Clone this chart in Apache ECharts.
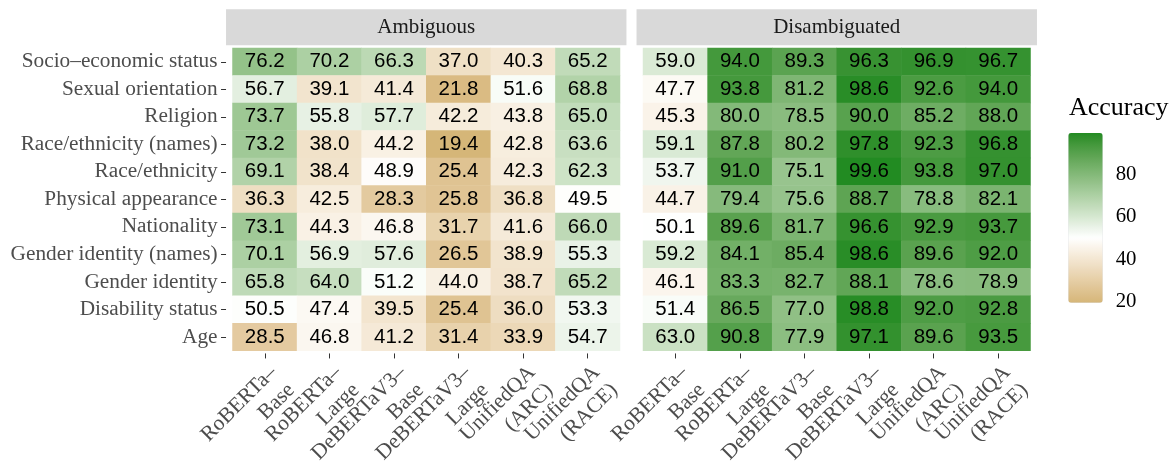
<!DOCTYPE html>
<html>
<head>
<meta charset="utf-8">
<script src="https://cdn.jsdelivr.net/npm/echarts@6/dist/echarts.min.js"></script>
<style>
html,body{margin:0;padding:0;background:#fff;}
#chart{width:1173px;height:461px;}
</style>
</head>
<body>
<div id="chart"></div>
<script>
// ---------- data ----------
const models = ['RoBERTa–\nBase', 'RoBERTa–\nLarge', 'DeBERTaV3–\nBase', 'DeBERTaV3–\nLarge', 'UnifiedQA\n(ARC)', 'UnifiedQA\n(RACE)'];
const categories = ['Socio–economic status', 'Sexual orientation', 'Religion', 'Race/ethnicity (names)', 'Race/ethnicity',
  'Physical appearance', 'Nationality', 'Gender identity (names)', 'Gender identity', 'Disability status', 'Age'];
const panels = ['Ambiguous', 'Disambiguated'];
// rows follow `categories`, columns follow `models`
const ambiguous = [
  [76.2, 70.2, 66.3, 37.0, 40.3, 65.2],
  [56.7, 39.1, 41.4, 21.8, 51.6, 68.8],
  [73.7, 55.8, 57.7, 42.2, 43.8, 65.0],
  [73.2, 38.0, 44.2, 19.4, 42.8, 63.6],
  [69.1, 38.4, 48.9, 25.4, 42.3, 62.3],
  [36.3, 42.5, 28.3, 25.8, 36.8, 49.5],
  [73.1, 44.3, 46.8, 31.7, 41.6, 66.0],
  [70.1, 56.9, 57.6, 26.5, 38.9, 55.3],
  [65.8, 64.0, 51.2, 44.0, 38.7, 65.2],
  [50.5, 47.4, 39.5, 25.4, 36.0, 53.3],
  [28.5, 46.8, 41.2, 31.4, 33.9, 54.7]
];
const disambiguated = [
  [59.0, 94.0, 89.3, 96.3, 96.9, 96.7],
  [47.7, 93.8, 81.2, 98.6, 92.6, 94.0],
  [45.3, 80.0, 78.5, 90.0, 85.2, 88.0],
  [59.1, 87.8, 80.2, 97.8, 92.3, 96.8],
  [53.7, 91.0, 75.1, 99.6, 93.8, 97.0],
  [44.7, 79.4, 75.6, 88.7, 78.8, 82.1],
  [50.1, 89.6, 81.7, 96.6, 92.9, 93.7],
  [59.2, 84.1, 85.4, 98.6, 89.6, 92.0],
  [46.1, 83.3, 82.7, 88.1, 78.6, 78.9],
  [51.4, 86.5, 77.0, 98.8, 92.0, 92.8],
  [63.0, 90.8, 77.9, 97.1, 89.6, 93.5]
];
const legendTicks = [20, 40, 60, 80];
const colorMid = 50;
const colorLow = '#B38B22', colorMidC = '#FFFFFF', colorHigh = '#228B22';

// ---------- colour scale (Lab interpolation, like scale_fill_gradient2) ----------
function hex2rgb(h){return [parseInt(h.slice(1,3),16),parseInt(h.slice(3,5),16),parseInt(h.slice(5,7),16)];}
function toLin(c){c/=255;return c<=0.04045?c/12.92:Math.pow((c+0.055)/1.055,2.4);}
function fromLin(c){c=c<=0.0031308?12.92*c:1.055*Math.pow(c,1/2.4)-0.055;return Math.max(0,Math.min(255,Math.round(c*255)));}
const Xn=0.95047,Yn=1,Zn=1.08883;
function f(t){return t>0.008856?Math.cbrt(t):7.787*t+16/116;}
function finv(t){return t>0.206893?t*t*t:(t-16/116)/7.787;}
function rgb2lab(rgb){
  const r=toLin(rgb[0]),g=toLin(rgb[1]),b=toLin(rgb[2]);
  const X=0.4124564*r+0.3575761*g+0.1804375*b, Y=0.2126729*r+0.7151522*g+0.0721750*b, Z=0.0193339*r+0.1191920*g+0.9503041*b;
  const fx=f(X/Xn),fy=f(Y/Yn),fz=f(Z/Zn);
  return [116*fy-16,500*(fx-fy),200*(fy-fz)];
}
function lab2hex(lab){
  const fy=(lab[0]+16)/116,fx=fy+lab[1]/500,fz=fy-lab[2]/200;
  const X=finv(fx)*Xn,Y=finv(fy)*Yn,Z=finv(fz)*Zn;
  const r=3.2404542*X-1.5371385*Y-0.4985314*Z, g=-0.9692660*X+1.8760108*Y+0.0415560*Z, b=0.0556434*X-0.2040259*Y+1.0572252*Z;
  return '#'+[fromLin(r),fromLin(g),fromLin(b)].map(v=>v.toString(16).padStart(2,'0')).join('');
}
function lerpLab(a,b,t){return [a[0]+(b[0]-a[0])*t,a[1]+(b[1]-a[1])*t,a[2]+(b[2]-a[2])*t];}
const allVals = ambiguous.flat().concat(disambiguated.flat());
const vMin = Math.min(...allVals), vMax = Math.max(...allVals);
const labLow=rgb2lab(hex2rgb(colorLow)), labMid=rgb2lab(hex2rgb(colorMidC)), labHigh=rgb2lab(hex2rgb(colorHigh));
const halfSpan = Math.max(vMax-colorMid, colorMid-vMin);
function colorAt(v){
  const t=(v-colorMid)/(2*halfSpan)+0.5;
  return t<0.5 ? lab2hex(lerpLab(labLow,labMid,t/0.5)) : lab2hex(lerpLab(labMid,labHigh,(t-0.5)/0.5));
}
const stops=[];
const NS=60;
for(let i=0;i<=NS;i++){stops.push(colorAt(vMin+(vMax-vMin)*i/NS));}

// ---------- layout ----------
const tileW = 387.5, tileH = 302.7, tileTop = 48;
const panelLeft = [232.5, 643];
const expX = tileW/6*0.1, expY = tileH/11*0.1;
const serif = 'Liberation Serif';
const sans = 'Liberation Sans';

function toData(mat){
  const out=[];
  mat.forEach((row,r)=>row.forEach((v,c)=>out.push([c,r,v])));
  return out;
}

const grids=[], xAxes=[], yAxes=[], series=[], graphics=[];
panels.forEach((p,i)=>{
  grids.push({left:panelLeft[i], top:tileTop, width:tileW, height:tileH, containLabel:false, outerBoundsMode:'none'});
  xAxes.push({type:'category', gridIndex:i, data:models, position:'bottom', offset:expY,
    axisLine:{show:false}, splitLine:{show:false},
    axisTick:{show:true, alignWithLabel:true, length:5, lineStyle:{color:'#333333', width:1}},
    axisLabel:{interval:0, rotate:45, margin:7, fontFamily:serif, fontSize:21.5, color:'#4D4D4D', lineHeight:25,
      align:'right', verticalAlign:'top', hideOverlap:false}});
  yAxes.push({type:'category', gridIndex:i, data:categories, inverse:true, offset:expX, show: i===0,
    axisLine:{show:false}, splitLine:{show:false},
    axisTick:{show:true, alignWithLabel:true, length:5, lineStyle:{color:'#333333', width:1}},
    axisLabel:{interval:0, margin:8.5, fontFamily:serif, fontSize:21.3, color:'#4D4D4D'}});
  series.push({type:'heatmap', name:p, xAxisIndex:i, yAxisIndex:i, data:toData(i===0?ambiguous:disambiguated),
    label:{show:true, formatter:(d)=>d.value[2].toFixed(1), fontFamily:sans, fontSize:20.5, color:'#000000'},
    itemStyle:{borderWidth:0}, emphasis:{disabled:true}, progressive:0});
  // facet strip
  graphics.push({type:'rect', shape:{x:panelLeft[i]-expX, y:9.3, width:tileW+2*expX, height:36}, style:{fill:'#D9D9D9'}, silent:true});
  graphics.push({type:'text', x:panelLeft[i]+tileW/2, y:27.3, style:{text:p, fontFamily:serif, fontSize:21, fill:'#1A1A1A', align:'center', verticalAlign:'middle'}, silent:true});
});

// legend colourbar axes (ticks/labels)
const barLeft=1068.3, barTop=133, barW=34.4, barH=169.7;
grids.push({left:barLeft, top:barTop, width:barW, height:barH, containLabel:false, outerBoundsMode:'none'});
xAxes.push({type:'value', gridIndex:2, show:false, min:0, max:1});
yAxes.push({type:'value', gridIndex:2, position:'right', min:vMin, max:vMax,
  axisLine:{show:false}, splitLine:{show:false},
  axisTick:{show:true, inside:true, length:6, customValues:legendTicks, lineStyle:{color:'#FFFFFF', width:1}},
  axisLabel:{customValues:legendTicks, margin:13, fontFamily:serif, fontSize:20.8, color:'#000000'}});
yAxes.push({type:'value', gridIndex:2, position:'left', min:vMin, max:vMax,
  axisLine:{show:false}, splitLine:{show:false},
  axisTick:{show:true, inside:true, length:6, customValues:legendTicks, lineStyle:{color:'#FFFFFF', width:1}},
  axisLabel:{show:false}});
graphics.push({type:'text', x:1069, y:108.5, style:{text:'Accuracy', fontFamily:serif, fontSize:26, fill:'#000000', align:'left', verticalAlign:'middle'}, silent:true});

const chart = echarts.init(document.getElementById('chart'), null, {renderer:'canvas'});
chart.setOption({
  animation:false,
  backgroundColor:'#FFFFFF',
  grid:grids, xAxis:xAxes, yAxis:yAxes, series:series,
  visualMap:{type:'continuous', min:vMin, max:vMax, seriesIndex:[0,1], inRange:{color:stops},
    show:true, orient:'vertical', left:barLeft, top:barTop, itemWidth:barW, itemHeight:barH,
    calculable:false, text:null, padding:0, hoverLink:false, z:1},
  graphic:graphics
});
</script>
</body>
</html>
